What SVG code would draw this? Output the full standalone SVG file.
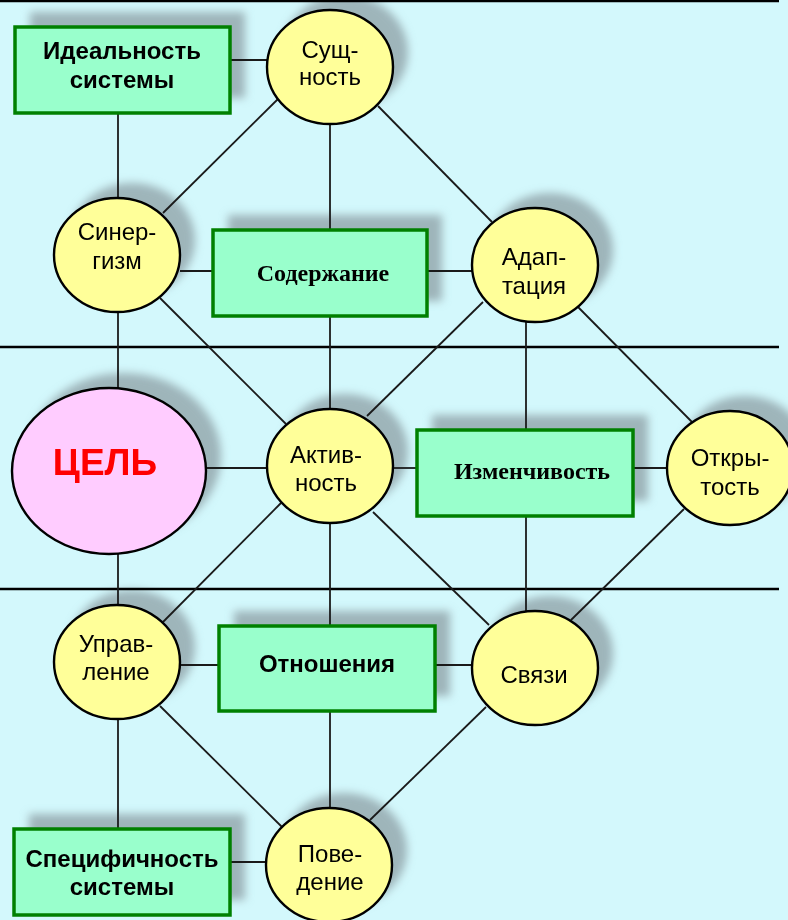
<svg xmlns="http://www.w3.org/2000/svg" width="788" height="920" viewBox="0 0 788 920">
<defs>
<filter id="blur" x="-20%" y="-20%" width="140%" height="140%"><feGaussianBlur stdDeviation="4.5"/></filter>
<style>
.el{fill:#FFFF99;stroke:#000;stroke-width:2.4}
.bx{fill:#99FFCC;stroke:#008000;stroke-width:3.5}
.sh{fill:#98ADB2;opacity:0.9}
.ln{stroke:#1a1a1a;stroke-width:1.8;fill:none}
.sep{stroke:#000;stroke-width:2.5}
.t{font-family:"Liberation Sans",Arial,sans-serif;font-size:24px;fill:#000;text-anchor:middle}
.tb{font-family:"Liberation Sans",Arial,sans-serif;font-size:24px;font-weight:bold;fill:#000;text-anchor:middle}
.ts{font-family:"Liberation Serif","Times New Roman",serif;font-size:24px;font-weight:bold;fill:#000;text-anchor:middle}
</style>
</defs>
<rect x="0" y="0" width="788" height="920" fill="#D3F8FC"/>
<g id="shadows" filter="url(#blur)" transform="translate(15,-15)">
<rect class="sh" x="15" y="27" width="215" height="86"/>
<ellipse class="sh" cx="330" cy="67" rx="63" ry="57"/>
<ellipse class="sh" cx="117" cy="255" rx="63" ry="57"/>
<rect class="sh" x="213" y="230" width="214" height="86"/>
<ellipse class="sh" cx="535" cy="265" rx="63" ry="57"/>
<ellipse class="sh" cx="109" cy="471" rx="97" ry="83"/>
<ellipse class="sh" cx="330" cy="466" rx="63" ry="57"/>
<rect class="sh" x="417" y="430" width="216" height="86"/>
<ellipse class="sh" cx="730" cy="468" rx="63" ry="57"/>
<ellipse class="sh" cx="117" cy="662" rx="63" ry="57"/>
<rect class="sh" x="219" y="626" width="216" height="85"/>
<ellipse class="sh" cx="535" cy="668" rx="63" ry="57"/>
<rect class="sh" x="14" y="829" width="216" height="86"/>
<ellipse class="sh" cx="329" cy="865" rx="63" ry="57"/>
</g>
<g id="separators">
<line class="sep" x1="0" y1="1" x2="779" y2="1"/>
<line class="sep" x1="0" y1="347" x2="779" y2="347"/>
<line class="sep" x1="0" y1="589" x2="779" y2="589"/>
</g>
<g id="connectors">
<line class="ln" x1="230" y1="60" x2="267" y2="60"/>
<line class="ln" x1="118" y1="113" x2="118" y2="198"/>
<line class="ln" x1="278" y1="99" x2="163" y2="213"/>
<line class="ln" x1="330" y1="124" x2="330" y2="230"/>
<line class="ln" x1="378" y1="106" x2="492" y2="222"/>
<line class="ln" x1="180" y1="271" x2="213" y2="271"/>
<line class="ln" x1="427" y1="271" x2="472" y2="271"/>
<line class="ln" x1="118" y1="312" x2="118" y2="388"/>
<line class="ln" x1="160" y1="298" x2="286" y2="424"/>
<line class="ln" x1="330" y1="316" x2="330" y2="409"/>
<line class="ln" x1="483" y1="302" x2="367" y2="416"/>
<line class="ln" x1="526" y1="322" x2="526" y2="430"/>
<line class="ln" x1="578" y1="307" x2="692" y2="422"/>
<line class="ln" x1="206" y1="468" x2="267" y2="468"/>
<line class="ln" x1="393" y1="468" x2="417" y2="468"/>
<line class="ln" x1="633" y1="468" x2="668" y2="468"/>
<line class="ln" x1="118" y1="554" x2="118" y2="606"/>
<line class="ln" x1="281" y1="503" x2="163" y2="622"/>
<line class="ln" x1="330" y1="523" x2="330" y2="626"/>
<line class="ln" x1="373" y1="512" x2="489" y2="625"/>
<line class="ln" x1="526" y1="516" x2="526" y2="611"/>
<line class="ln" x1="684" y1="509" x2="571" y2="620"/>
<line class="ln" x1="180" y1="665" x2="219" y2="665"/>
<line class="ln" x1="435" y1="665" x2="472" y2="665"/>
<line class="ln" x1="118" y1="719" x2="118" y2="829"/>
<line class="ln" x1="160" y1="706" x2="282" y2="827"/>
<line class="ln" x1="330" y1="711" x2="330" y2="808"/>
<line class="ln" x1="486" y1="707" x2="370" y2="820"/>
<line class="ln" x1="230" y1="862" x2="267" y2="862"/>
</g>
<g id="n-idealnost">
<rect class="bx" x="15" y="27" width="215" height="86"/>
<text class="tb" x="122" y="59">Идеальность</text>
<text class="tb" x="122" y="88">системы</text>
</g>
<g id="n-sushchnost">
<ellipse class="el" cx="330" cy="67" rx="63" ry="57"/>
<text class="t" x="330" y="58">Сущ-</text>
<text class="t" x="330" y="85">ность</text>
</g>
<g id="n-sinergizm">
<ellipse class="el" cx="117" cy="255" rx="63" ry="57"/>
<text class="t" x="117" y="240">Синер-</text>
<text class="t" x="117" y="269">гизм</text>
</g>
<g id="n-soderzhanie">
<rect class="bx" x="213" y="230" width="214" height="86"/>
<text class="ts" x="323" y="281">Содержание</text>
</g>
<g id="n-adaptaciya">
<ellipse class="el" cx="535" cy="265" rx="63" ry="57"/>
<text class="t" x="534" y="265">Адап-</text>
<text class="t" x="534" y="294">тация</text>
</g>
<g id="n-cel">
<ellipse cx="109" cy="471" rx="97" ry="83" fill="#FFCCFF" stroke="#000" stroke-width="2.4"/>
<text x="105" y="475" font-family="Liberation Sans, Arial, sans-serif" font-size="37" font-weight="bold" fill="#FF0000" text-anchor="middle">ЦЕЛЬ</text>
</g>
<g id="n-aktivnost">
<ellipse class="el" cx="330" cy="466" rx="63" ry="57"/>
<text class="t" x="326" y="463">Актив-</text>
<text class="t" x="326" y="491">ность</text>
</g>
<g id="n-izmenchivost">
<rect class="bx" x="417" y="430" width="216" height="86"/>
<text class="ts" x="532" y="479">Изменчивость</text>
</g>
<g id="n-otkrytost">
<ellipse class="el" cx="730" cy="468" rx="63" ry="57"/>
<text class="t" x="730" y="466">Откры-</text>
<text class="t" x="730" y="495">тость</text>
</g>
<g id="n-upravlenie">
<ellipse class="el" cx="117" cy="662" rx="63" ry="57"/>
<text class="t" x="116" y="652">Управ-</text>
<text class="t" x="116" y="680">ление</text>
</g>
<g id="n-otnosheniya">
<rect class="bx" x="219" y="626" width="216" height="85"/>
<text class="tb" x="327" y="672">Отношения</text>
</g>
<g id="n-svyazi">
<ellipse class="el" cx="535" cy="668" rx="63" ry="57"/>
<text class="t" x="534" y="683">Связи</text>
</g>
<g id="n-specifichnost">
<rect class="bx" x="14" y="829" width="216" height="86"/>
<text class="tb" x="122" y="867">Специфичность</text>
<text class="tb" x="122" y="895">системы</text>
</g>
<g id="n-povedenie">
<ellipse class="el" cx="329" cy="865" rx="63" ry="57"/>
<text class="t" x="330" y="862">Пове-</text>
<text class="t" x="330" y="890">дение</text>
</g>
</svg>
